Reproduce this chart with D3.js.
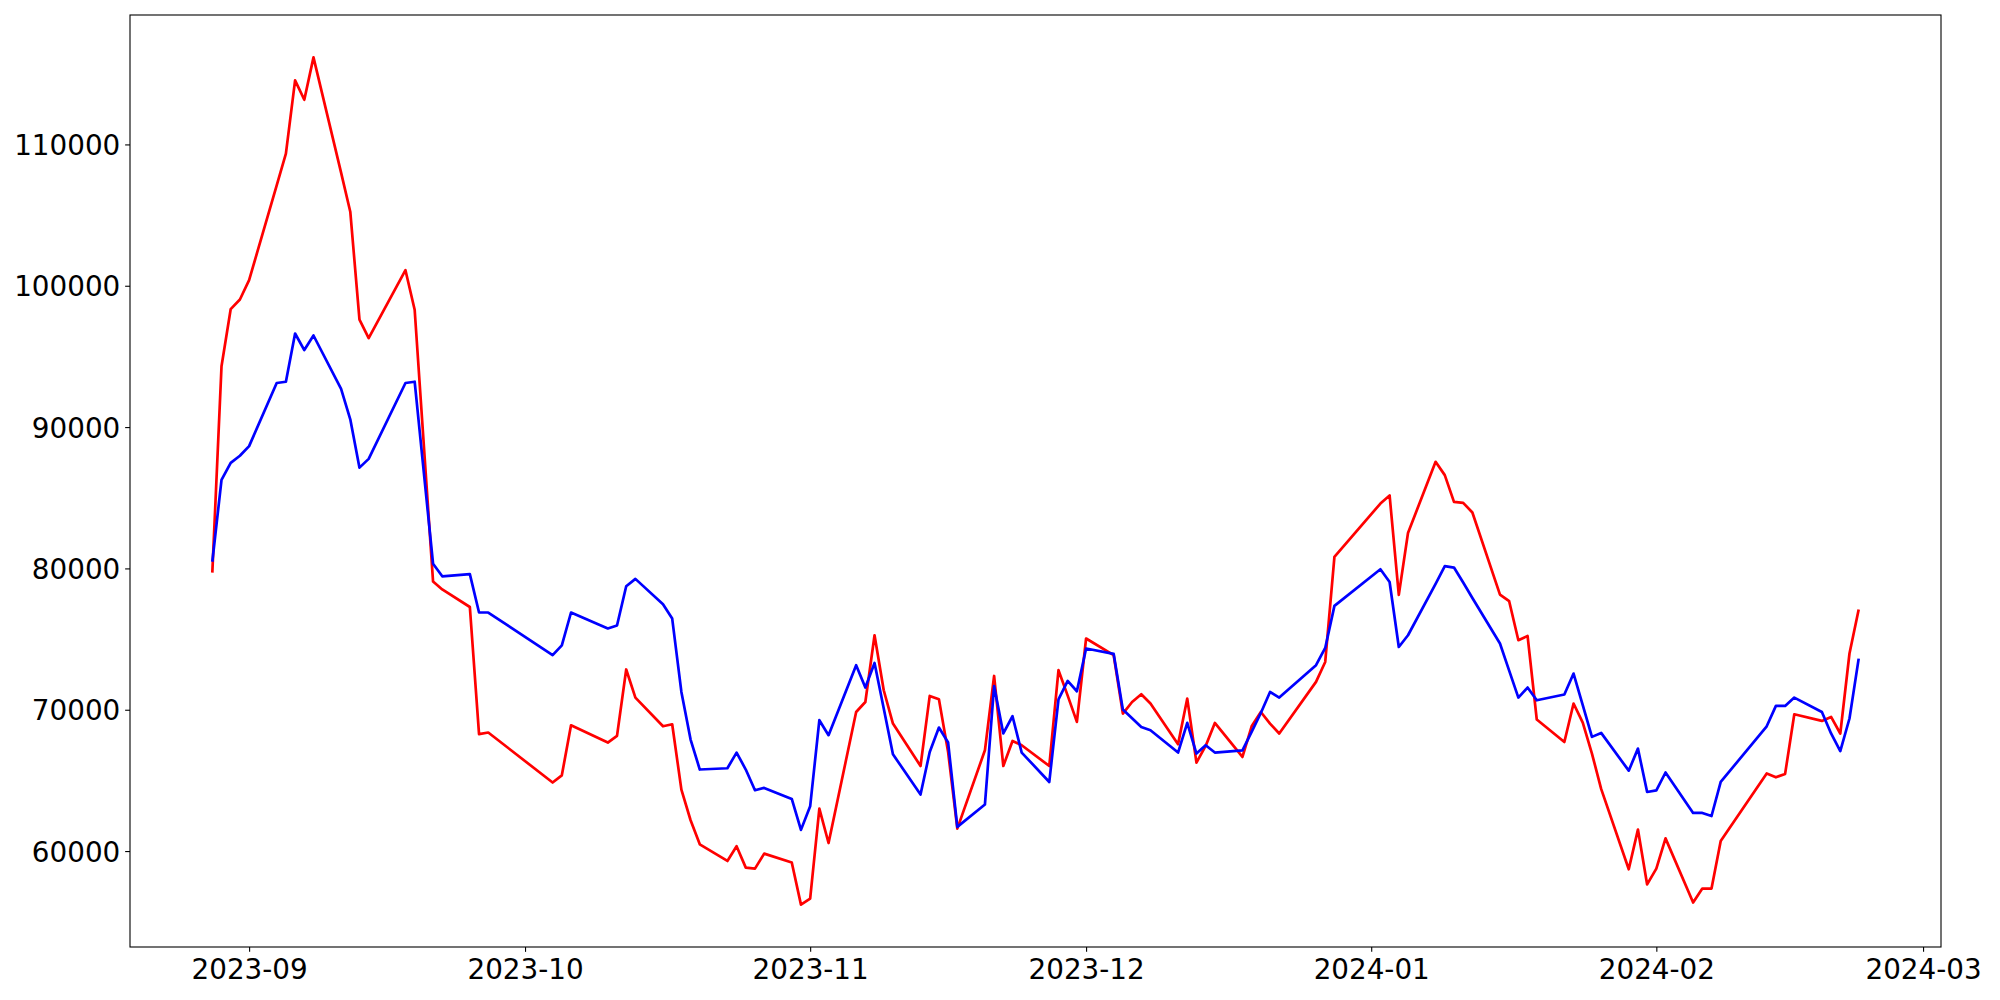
<!DOCTYPE html>
<html>
<head>
<meta charset="utf-8">
<script src="https://cdn.jsdelivr.net/npm/d3@7"></script>
<style>
  html, body { margin: 0; padding: 0; background: #fff; }
  svg { display: block; }
</style>
</head>
<body>
<svg id="chart" width="2000" height="1000"></svg>
<script>
// ---- data ----
const dates = [
  "2023-08-28","2023-08-29","2023-08-30","2023-08-31",
  "2023-09-01","2023-09-04","2023-09-05","2023-09-06","2023-09-07","2023-09-08",
  "2023-09-11","2023-09-12","2023-09-13","2023-09-14","2023-09-18","2023-09-19",
  "2023-09-21","2023-09-22","2023-09-25","2023-09-26","2023-09-27",
  "2023-10-04","2023-10-05","2023-10-06","2023-10-10","2023-10-11","2023-10-12","2023-10-13",
  "2023-10-16","2023-10-17","2023-10-18","2023-10-19","2023-10-20","2023-10-23","2023-10-24",
  "2023-10-25","2023-10-26","2023-10-27","2023-10-30","2023-10-31",
  "2023-11-01","2023-11-02","2023-11-03","2023-11-06","2023-11-07","2023-11-08","2023-11-09",
  "2023-11-10","2023-11-13","2023-11-14","2023-11-15","2023-11-16","2023-11-17","2023-11-20",
  "2023-11-21","2023-11-22","2023-11-23","2023-11-24","2023-11-27","2023-11-28","2023-11-29",
  "2023-11-30",
  "2023-12-01","2023-12-04","2023-12-05","2023-12-06","2023-12-07","2023-12-08","2023-12-11",
  "2023-12-12","2023-12-13","2023-12-14","2023-12-15","2023-12-18","2023-12-19","2023-12-20",
  "2023-12-21","2023-12-22","2023-12-26","2023-12-27","2023-12-28",
  "2024-01-02","2024-01-03","2024-01-04","2024-01-05","2024-01-08","2024-01-09","2024-01-10",
  "2024-01-11","2024-01-12","2024-01-15","2024-01-16","2024-01-17","2024-01-18","2024-01-19",
  "2024-01-22","2024-01-23","2024-01-24","2024-01-25","2024-01-26","2024-01-29","2024-01-30",
  "2024-01-31",
  "2024-02-01","2024-02-02","2024-02-05","2024-02-06","2024-02-07","2024-02-08","2024-02-13",
  "2024-02-14","2024-02-15","2024-02-16","2024-02-19","2024-02-20","2024-02-21","2024-02-22",
  "2024-02-23"
];

const redValues = [
  79700, 94300, 98350, 99030,
  100400, 107100, 109350, 114530, 113160, 116160,
  108000, 105240, 97600, 96290, 101100, 98300,
  79070, 78510, 77270, 68270, 68390,
  64850, 65360, 68900, 67680, 68150, 72850, 70860,
  68830, 68970, 64350, 62180, 60480, 59300, 60340,
  58830, 58760, 59820, 59190, 56210,
  56640, 63010, 60570, 69840, 70550, 75270, 71380,
  69020, 66020, 70980, 70740, 67000, 61590, 67130,
  72390, 66020, 67790, 67490, 66020, 72800, 71000,
  69140,
  75040, 73860, 69730, 70550, 71100, 70440, 67560,
  70790, 66260, 67440, 69070, 66660, 68830, 69840,
  69020, 68320, 71970, 73380, 80810,
  84590, 85160, 78130, 82510, 87540, 86600, 84710,
  84640, 83960, 78150, 77680, 74920, 75220, 69310,
  67720, 70440, 69090, 66900, 64400, 58710, 61520,
  57640,
  58760, 60900, 56360, 57350, 57350, 60720, 65490,
  65220, 65460, 69680, 69210, 69490, 68320, 73980,
  77090
];

const blueValues = [
  80470, 86270, 87470, 87970,
  88650, 93120, 93210, 96620, 95450, 96480,
  92700, 90550, 87130, 87750, 93120, 93210,
  80330, 79440, 79600, 76880, 76880,
  73860, 74560, 76880, 75750, 75960, 78740, 79260,
  77470, 76450, 71260, 67890, 65770, 65860, 66970,
  65770, 64300, 64470, 63690, 61500,
  63170, 69260, 68200, 73150, 71570, 73310, 70090,
  66850, 64000, 67010, 68740, 67680, 61710, 63290,
  71680, 68320, 69540, 66970, 64890, 70740, 72040,
  71310,
  74330, 73950, 70010, 69400, 68780, 68550, 66970,
  69070, 66900, 67490, 66970, 67130, 68430, 69770,
  71260, 70860, 73150, 74370, 77350,
  79940, 79040, 74440, 75270, 78900, 80160, 80060,
  79000, 77910, 74690, 72770, 70860, 71570, 70670,
  71080, 72560, 70320, 68080, 68360, 65690, 67250,
  64180,
  64290, 65560, 62700, 62700, 62480, 64890, 68830,
  70270, 70270, 70860, 69840, 68320, 67080, 69380,
  73620
];

const yTickValues = [60000, 70000, 80000, 90000, 100000, 110000];
const xTickLabels = ["2023-09","2023-10","2023-11","2023-12","2024-01","2024-02","2024-03"];

// ---- layout ----
const W = 2000, H = 1000;
const plot = { left: 130, right: 1941, top: 15, bottom: 947 };
const FONT = "'DejaVu Sans', sans-serif";
const FS = 27.8;
const tickLen = 4.86, tickPad = 4.86;

const parse = d3.utcParse("%Y-%m-%d");
const parseMonth = d3.utcParse("%Y-%m");
const xDates = dates.map(parse);

const series = [
  { name: "red", color: "#ff0000", values: redValues },
  { name: "blue", color: "#0000ff", values: blueValues }
];

// matplotlib-style 5% margins
const xExt = d3.extent(xDates);
const xSpan = xExt[1] - xExt[0];
const xDomain = [new Date(+xExt[0] - 0.05 * xSpan), new Date(+xExt[1] + 0.05 * xSpan)];
const allY = redValues.concat(blueValues);
const yExt = d3.extent(allY);
const ySpan = yExt[1] - yExt[0];
const yDomain = [yExt[0] - 0.05 * ySpan, yExt[1] + 0.05 * ySpan];

const x = d3.scaleUtc().domain(xDomain).range([plot.left, plot.right]);
const y = d3.scaleLinear().domain(yDomain).range([plot.bottom, plot.top]);

const svg = d3.select("#chart");
svg.append("rect").attr("width", W).attr("height", H).attr("fill", "#fff");

// clip
svg.append("clipPath").attr("id", "clip").append("rect")
  .attr("x", plot.left).attr("y", plot.top)
  .attr("width", plot.right - plot.left).attr("height", plot.bottom - plot.top);

const line = d3.line()
  .x((d, i) => x(xDates[i]))
  .y(d => y(d));

const g = svg.append("g").attr("clip-path", "url(#clip)");
series.forEach(s => {
  g.append("path")
    .datum(s.values)
    .attr("fill", "none")
    .attr("stroke", s.color)
    .attr("stroke-width", 2.7)
    .attr("stroke-linejoin", "round")
    .attr("stroke-linecap", "butt")
    .attr("d", line);
});

// axes
const xTicks = xTickLabels.map(parseMonth);
const xAxis = d3.axisBottom(x)
  .tickValues(xTicks)
  .tickFormat(d3.utcFormat("%Y-%m"))
  .tickSize(tickLen)
  .tickPadding(tickPad);
const yAxis = d3.axisLeft(y)
  .tickValues(yTickValues)
  .tickFormat(d3.format("d"))
  .tickSize(tickLen)
  .tickPadding(tickPad);

const gx = svg.append("g").attr("transform", `translate(0,${plot.bottom})`).call(xAxis);
const gy = svg.append("g").attr("transform", `translate(${plot.left},0)`).call(yAxis);

[gx, gy].forEach(a => {
  a.select(".domain").remove();
  a.selectAll(".tick line").attr("stroke", "#000").attr("stroke-width", 1.1);
  a.selectAll(".tick text")
    .attr("fill", "#000")
    .style("font-family", FONT)
    .style("font-size", FS + "px");
});
gx.selectAll(".tick text").attr("dy", null).attr("y", null)
  .attr("dominant-baseline", "alphabetic")
  .attr("transform", `translate(0,${tickLen + tickPad + 22.5})`);
gy.selectAll(".tick text").attr("dy", null)
  .attr("dominant-baseline", "alphabetic")
  .attr("transform", "translate(0,10.1)");

// spines
svg.append("rect")
  .attr("x", plot.left).attr("y", plot.top)
  .attr("width", plot.right - plot.left).attr("height", plot.bottom - plot.top)
  .attr("fill", "none").attr("stroke", "#000").attr("stroke-width", 1.1);
</script>
</body>
</html>
